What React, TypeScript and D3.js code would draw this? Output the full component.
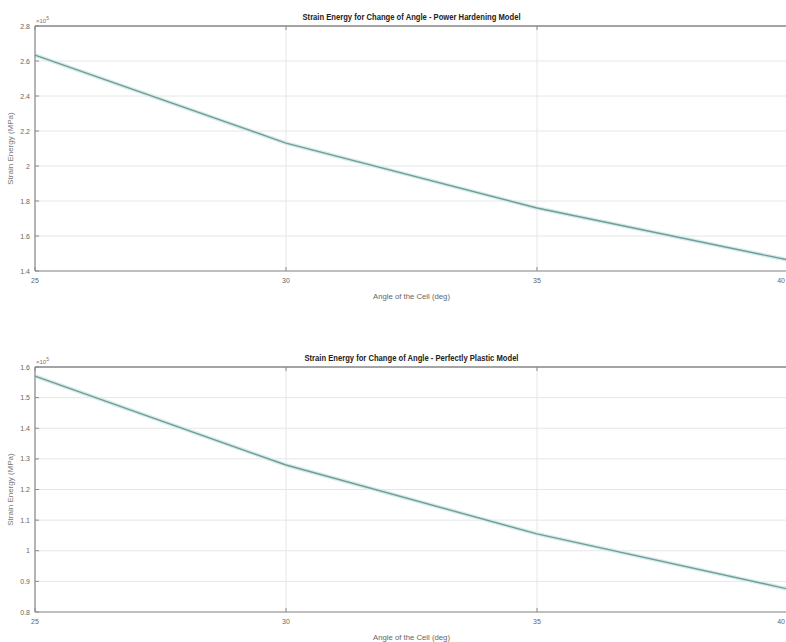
import React, { useEffect } from "react";
import * as d3 from "d3";

const angles = [25, 30, 35, 40];
const powerHardening = [2.634, 2.131, 1.76, 1.463];
const perfectlyPlastic = [1.57, 1.28, 1.055, 0.875];
const xTicks = [25, 30, 35, 40];
const topYTicks = [1.4, 1.6, 1.8, 2.0, 2.2, 2.4, 2.6, 2.8];
const botYTicks = [0.8, 0.9, 1.0, 1.1, 1.2, 1.3, 1.4, 1.5, 1.6];
const titles = [
  "Strain Energy for Change of Angle - Power Hardening Model",
  "Strain Energy for Change of Angle - Perfectly Plastic Model",
];
const xLabel = "Angle of the Cell (deg)";
const yLabel = "Strain Energy (MPa)";

const W = 786;
const H = 642;
const left = 35;
const right = 788;

type PanelProps = {
  values: number[];
  yTicks: number[];
  domain: [number, number];
  top: number;
  bottom: number;
  title: string;
  titleW: number;
};

function Panel({ values, yTicks, domain, top, bottom, title, titleW }: PanelProps) {
  const x = d3.scaleLinear().domain([25, 40]).range([left, right]);
  const y = d3.scaleLinear().domain(domain).range([bottom, top]);
  const line = d3
    .line<number>()
    .x((_, i) => x(angles[i]))
    .y((d) => y(d));
  const path = line(values) || "";
  const fmt = (v: number) => {
    const s = d3.format(".1f")(v);
    return s.endsWith(".0") ? s.slice(0, -2) : s;
  };
  const cx = (left + right) / 2;
  return (
    <g>
      {yTicks.map((t) => (
        <line key={"gy" + t} x1={left} x2={right} y1={y(t)} y2={y(t)} stroke="#e6e6e6" strokeWidth={1} />
      ))}
      {xTicks.map((t) => (
        <line key={"gx" + t} x1={x(t)} x2={x(t)} y1={top} y2={bottom} stroke="#e6e6e6" strokeWidth={1} />
      ))}
      <path d={path} fill="none" stroke="#d8ecea" strokeWidth={4} />
      <path d={path} fill="none" stroke="#6f9e9a" strokeWidth={1.4} />
      <line x1={left} x2={right} y1={top} y2={top} stroke="#8a8a8a" strokeWidth={1.6} />
      <line x1={left} x2={right} y1={bottom} y2={bottom} stroke="#8a8a8a" strokeWidth={1.2} />
      <line x1={left} x2={left} y1={top} y2={bottom} stroke="#8a8a8a" strokeWidth={1.2} />
      {yTicks.map((t) => (
        <g key={"yt" + t}>
          <line x1={left} x2={left + 4} y1={y(t)} y2={y(t)} stroke="#8a8a8a" strokeWidth={1} />
          <text x={left - 5} y={y(t) + 2.5} textAnchor="end" fontSize={7} fill="#666" fontFamily="Liberation Sans, Arial, sans-serif">
            {fmt(t)}
          </text>
        </g>
      ))}
      {xTicks.map((t) => {
        const px = x(t);
        const edge = px > W - 6;
        return (
          <g key={"xt" + t}>
            <line x1={px} x2={px} y1={bottom} y2={bottom - 4} stroke="#8a8a8a" strokeWidth={1} />
            <line x1={px} x2={px} y1={top} y2={top + 4} stroke="#8a8a8a" strokeWidth={1} />
            <text
              x={edge ? W - 1 : px}
              y={bottom + 12}
              textAnchor={edge ? "end" : "middle"}
              fontSize={7}
              fill="#666"
              fontFamily="Liberation Sans, Arial, sans-serif"
            >
              {t}
            </text>
          </g>
        );
      })}
      <text x={left + 1} y={top - 3} fontSize={6} fill="#777" fontFamily="Liberation Sans, Arial, sans-serif">
        ×10
        <tspan dy={-3} fontSize={5}>5</tspan>
      </text>
      <text
        x={cx}
        y={top - 6}
        textAnchor="middle"
        fontSize={8.5}
        fontWeight="bold"
        fill="#222"
        fontFamily="Liberation Sans, Arial, sans-serif"
        textLength={titleW}
        lengthAdjust="spacingAndGlyphs"
      >
        {title}
      </text>
      <text
        x={cx}
        y={bottom + 28}
        textAnchor="middle"
        fontSize={7.5}
        fill="#666"
        fontFamily="Liberation Sans, Arial, sans-serif"
        textLength={77}
        lengthAdjust="spacingAndGlyphs"
      >
        {xLabel}
      </text>
      <text
        transform={`translate(13,${(top + bottom) / 2}) rotate(-90)`}
        textAnchor="middle"
        fontSize={8}
        fill="#777"
        fontFamily="Liberation Sans, Arial, sans-serif"
      >
        {yLabel}
      </text>
    </g>
  );
}

export default function App() {
  useEffect(() => {
    document.body.style.margin = "0";
    document.body.style.overflow = "hidden";
  }, []);
  return (
    <svg width={W} height={H} style={{ display: "block", background: "#fff" }}>
      <Panel
        values={powerHardening}
        yTicks={topYTicks}
        domain={[1.4, 2.8]}
        top={26}
        bottom={271}
        title={titles[0]}
        titleW={218}
      />
      <Panel
        values={perfectlyPlastic}
        yTicks={botYTicks}
        domain={[0.8, 1.6]}
        top={367}
        bottom={612}
        title={titles[1]}
        titleW={214}
      />
    </svg>
  );
}
